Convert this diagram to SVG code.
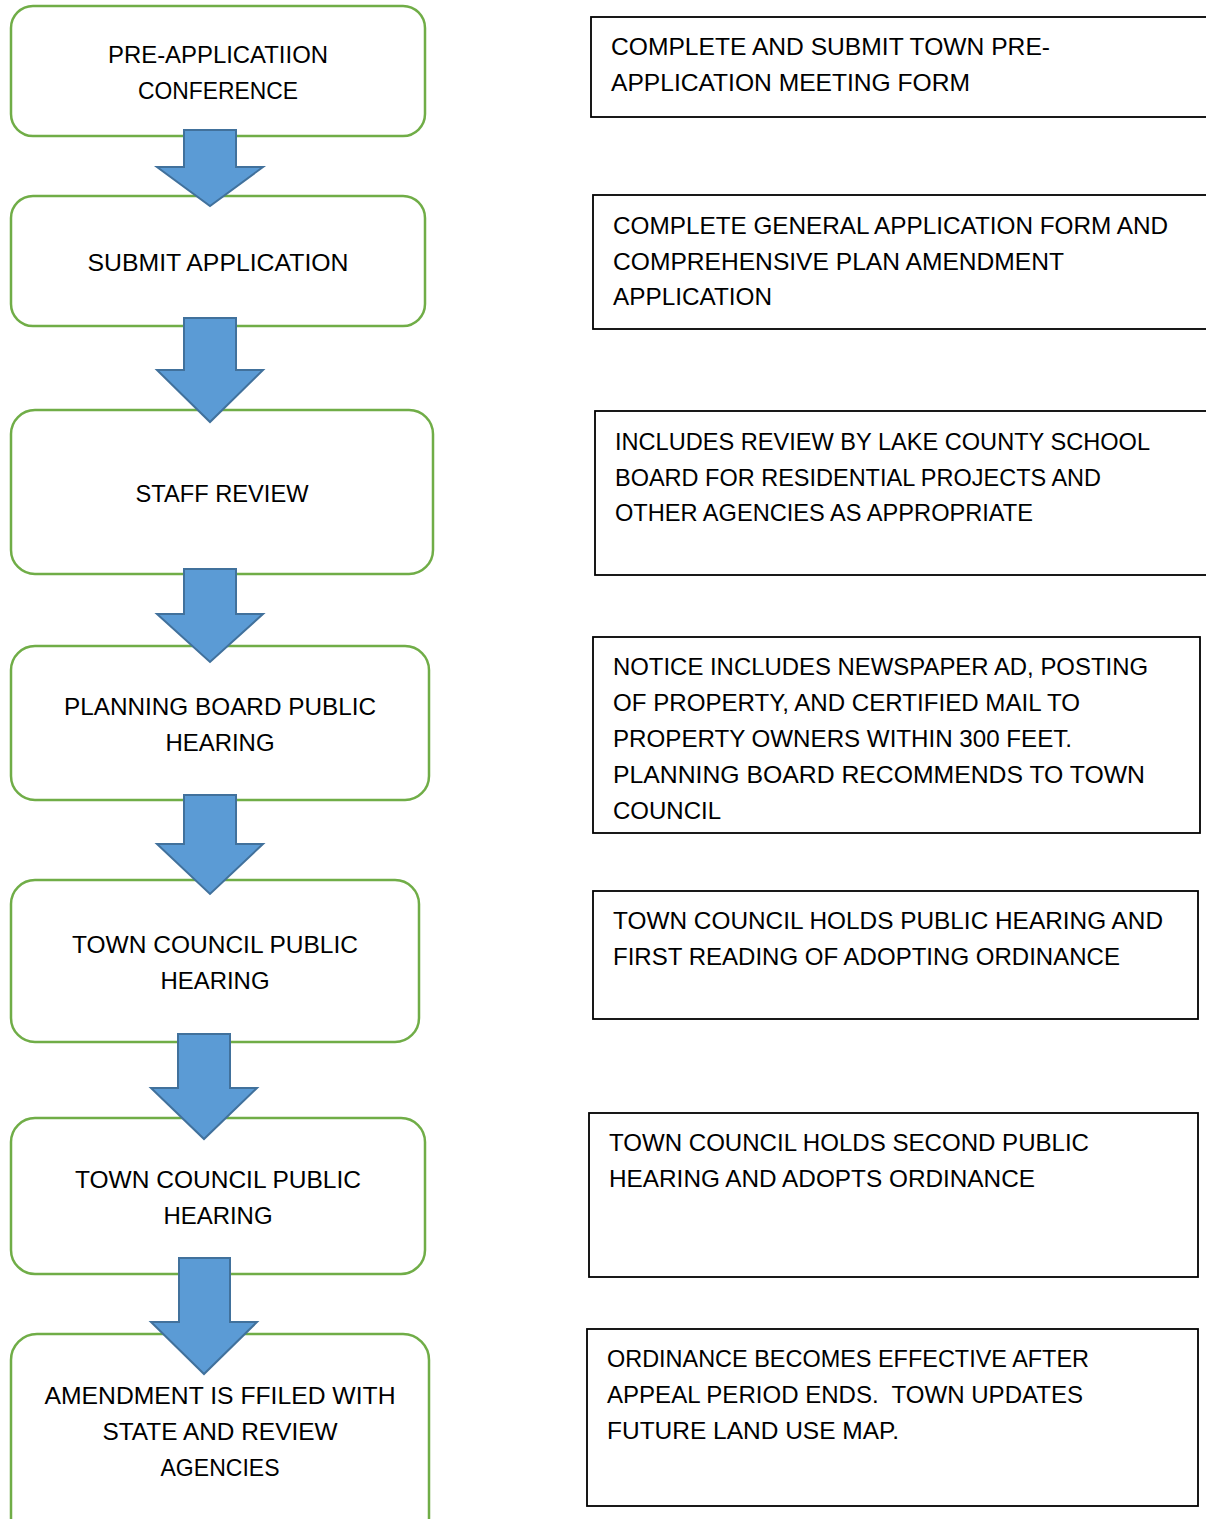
<svg xmlns="http://www.w3.org/2000/svg" width="1206" height="1519" viewBox="0 0 1206 1519">
<style>
.step{fill:#fff;stroke:#70AD47;stroke-width:2.5}
.note{fill:#fff;stroke:#000;stroke-width:1.8}
.arr{fill:#5B9BD5;stroke:#41719C;stroke-width:2;stroke-linejoin:miter}
text{font-family:"Liberation Sans","Open Sans",sans-serif;font-size:24px;fill:#000}
.c{text-anchor:middle}
</style>
<rect width="1206" height="1519" fill="#fff"/>
<g id="step1"><rect class="step" x="11" y="6" width="414" height="130" rx="22"/>
<text class="c" x="218" y="63" textLength="220" lengthAdjust="spacingAndGlyphs">PRE-APPLICATIION</text>
<text class="c" x="218" y="99" textLength="160" lengthAdjust="spacingAndGlyphs">CONFERENCE</text></g>
<g id="step2"><rect class="step" x="11" y="196" width="414" height="130" rx="22"/>
<text class="c" x="218" y="271" textLength="261" lengthAdjust="spacingAndGlyphs">SUBMIT APPLICATION</text></g>
<g id="step3"><rect class="step" x="11" y="410" width="422" height="164" rx="24"/>
<text class="c" x="222" y="502" textLength="173" lengthAdjust="spacingAndGlyphs">STAFF REVIEW</text></g>
<g id="step4"><rect class="step" x="11" y="646" width="418" height="154" rx="24"/>
<text class="c" x="220" y="715" textLength="312" lengthAdjust="spacingAndGlyphs">PLANNING BOARD PUBLIC</text>
<text class="c" x="220" y="751" textLength="109" lengthAdjust="spacingAndGlyphs">HEARING</text></g>
<g id="step5"><rect class="step" x="11" y="880" width="408" height="162" rx="24"/>
<text class="c" x="215" y="953" textLength="286" lengthAdjust="spacingAndGlyphs">TOWN COUNCIL PUBLIC</text>
<text class="c" x="215" y="989" textLength="109" lengthAdjust="spacingAndGlyphs">HEARING</text></g>
<g id="step6"><rect class="step" x="11" y="1118" width="414" height="156" rx="24"/>
<text class="c" x="218" y="1188" textLength="286" lengthAdjust="spacingAndGlyphs">TOWN COUNCIL PUBLIC</text>
<text class="c" x="218" y="1224" textLength="109" lengthAdjust="spacingAndGlyphs">HEARING</text></g>
<g id="step7"><rect class="step" x="11" y="1334" width="418" height="210" rx="26"/>
<text class="c" x="220" y="1404" textLength="351" lengthAdjust="spacingAndGlyphs">AMENDMENT IS FFILED WITH</text>
<text class="c" x="220" y="1440" textLength="235" lengthAdjust="spacingAndGlyphs">STATE AND REVIEW</text>
<text class="c" x="220" y="1476" textLength="119" lengthAdjust="spacingAndGlyphs">AGENCIES</text></g>
<g id="note1"><rect class="note" x="591" y="17" width="630" height="100"/>
<text x="611" y="55" textLength="439" lengthAdjust="spacingAndGlyphs">COMPLETE AND SUBMIT TOWN PRE-</text>
<text x="611" y="91" textLength="359" lengthAdjust="spacingAndGlyphs">APPLICATION MEETING FORM</text></g>
<g id="note2"><rect class="note" x="593" y="195" width="630" height="134"/>
<text x="613" y="234" textLength="555" lengthAdjust="spacingAndGlyphs">COMPLETE GENERAL APPLICATION FORM AND</text>
<text x="613" y="270" textLength="451" lengthAdjust="spacingAndGlyphs">COMPREHENSIVE PLAN AMENDMENT</text>
<text x="613" y="305" textLength="159" lengthAdjust="spacingAndGlyphs">APPLICATION</text></g>
<g id="note3"><rect class="note" x="595" y="411" width="630" height="164"/>
<text x="615" y="450" textLength="535" lengthAdjust="spacingAndGlyphs">INCLUDES REVIEW BY LAKE COUNTY SCHOOL</text>
<text x="615" y="486" textLength="486" lengthAdjust="spacingAndGlyphs">BOARD FOR RESIDENTIAL PROJECTS AND</text>
<text x="615" y="521" textLength="418" lengthAdjust="spacingAndGlyphs">OTHER AGENCIES AS APPROPRIATE</text></g>
<g id="note4"><rect class="note" x="593" y="637" width="607" height="196"/>
<text x="613" y="675" textLength="535" lengthAdjust="spacingAndGlyphs">NOTICE INCLUDES NEWSPAPER AD, POSTING</text>
<text x="613" y="711" textLength="467" lengthAdjust="spacingAndGlyphs">OF PROPERTY, AND CERTIFIED MAIL TO</text>
<text x="613" y="747" textLength="459" lengthAdjust="spacingAndGlyphs">PROPERTY OWNERS WITHIN 300 FEET.</text>
<text x="613" y="783" textLength="532" lengthAdjust="spacingAndGlyphs">PLANNING BOARD RECOMMENDS TO TOWN</text>
<text x="613" y="819" textLength="108" lengthAdjust="spacingAndGlyphs">COUNCIL</text></g>
<g id="note5"><rect class="note" x="593" y="891" width="605" height="128"/>
<text x="613" y="929" textLength="550" lengthAdjust="spacingAndGlyphs">TOWN COUNCIL HOLDS PUBLIC HEARING AND</text>
<text x="613" y="965" textLength="507" lengthAdjust="spacingAndGlyphs">FIRST READING OF ADOPTING ORDINANCE</text></g>
<g id="note6"><rect class="note" x="589" y="1113" width="609" height="164"/>
<text x="609" y="1151" textLength="480" lengthAdjust="spacingAndGlyphs">TOWN COUNCIL HOLDS SECOND PUBLIC</text>
<text x="609" y="1187" textLength="426" lengthAdjust="spacingAndGlyphs">HEARING AND ADOPTS ORDINANCE</text></g>
<g id="note7"><rect class="note" x="587" y="1329" width="611" height="177"/>
<text x="607" y="1367" textLength="482" lengthAdjust="spacingAndGlyphs">ORDINANCE BECOMES EFFECTIVE AFTER</text>
<text x="607" y="1403" textLength="476" lengthAdjust="spacingAndGlyphs" xml:space="preserve">APPEAL PERIOD ENDS.  TOWN UPDATES</text>
<text x="607" y="1439" textLength="292" lengthAdjust="spacingAndGlyphs">FUTURE LAND USE MAP.</text></g>
<g id="connectors">
<path class="arr" d="M184 130H236V167H263L210 206L157 167H184Z"/>
<path class="arr" d="M184 318H236V370H263L210 422L157 370H184Z"/>
<path class="arr" d="M184 569H236V614H263L210 662L157 614H184Z"/>
<path class="arr" d="M184 795H236V844H263L210 894L157 844H184Z"/>
<path class="arr" d="M178 1034H230V1088H257L204 1139L151 1088H178Z"/>
<path class="arr" d="M179 1258H230V1322H257L204 1374L151 1322H179Z"/>
</g>
</svg>
